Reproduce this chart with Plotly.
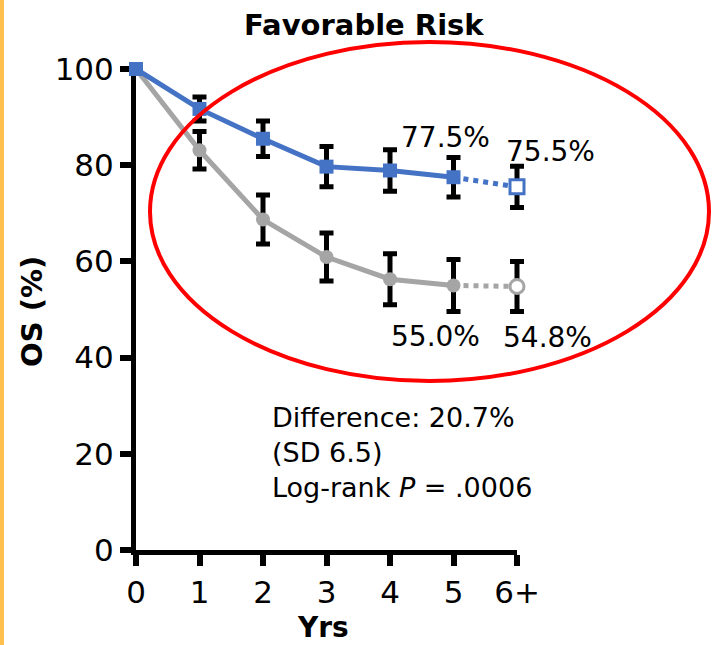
import plotly.graph_objects as go

years = [0, 1, 2, 3, 4, 5, 6]
tick_labels = ["0", "1", "2", "3", "4", "5", "6+"]
y_ticks = [0, 20, 40, 60, 80, 100]

blue_os = [100, 91.7, 85.5, 79.7, 78.9, 77.5, 75.5]
blue_err = [0, 2.5, 3.7, 4.2, 4.3, 4.1, 4.3]
gray_os = [100, 83.1, 68.7, 60.9, 56.3, 55.0, 54.8]
gray_err = [0, 3.9, 5.1, 5.0, 5.3, 5.4, 5.2]

blue_labels = {5: "77.5%", 6: "75.5%"}
gray_labels = {5: "55.0%", 6: "54.8%"}

BLUE = "#4472C4"
GRAY = "#A5A5A5"
FONT = "DejaVu Sans"

# layout geometry (pixels)
W, H = 720, 645
L, T = 136, 69
PW_AXIS = 381          # visible x-axis length (0 .. 6+)
PW = 401               # data subplot width (room so edge error caps aren't clipped)
PH = 481
R = W - L - PW
B = H - T - PH
frac = PW_AXIS / PW


def px(x):
    return (x - L) / PW


def py(y):
    return (T + PH - y) / PH


fig = go.Figure()

# invisible trace keeping the visible axes' subplot alive
fig.add_trace(go.Scatter(x=years, y=blue_os, mode="markers", marker=dict(size=0.1, opacity=0),
                         showlegend=False, hoverinfo="skip", xaxis="x", yaxis="y"))

# error bars (drawn first so lines/markers sit on top)
for ys, errs in [(gray_os, gray_err), (blue_os, blue_err)]:
    fig.add_trace(go.Scatter(
        x=years[1:], y=ys[1:], mode="markers",
        marker=dict(size=1, color="rgba(0,0,0,0)"),
        error_y=dict(type="data", array=errs[1:], color="black", thickness=5, width=7),
        showlegend=False, hoverinfo="skip", cliponaxis=False, xaxis="x2", yaxis="y"))

for ys, col, sym in [(gray_os, GRAY, "circle"), (blue_os, BLUE, "square")]:
    fig.add_trace(go.Scatter(
        x=years[:6], y=ys[:6], mode="lines+markers",
        line=dict(color=col, width=5),
        marker=dict(symbol=sym, size=14, color=col),
        showlegend=False, cliponaxis=False, xaxis="x2", yaxis="y"))
    fig.add_trace(go.Scatter(
        x=years[5:], y=ys[5:], mode="lines",
        line=dict(color=col, width=5, dash="dot"),
        showlegend=False, cliponaxis=False, xaxis="x2", yaxis="y"))
    fig.add_trace(go.Scatter(
        x=years[6:], y=ys[6:], mode="markers",
        marker=dict(symbol=sym, size=14, color="white", line=dict(color=col, width=3)),
        showlegend=False, cliponaxis=False, xaxis="x2", yaxis="y"))

annotations = []
shifts_b = {5: (-8, 40), 6: (33, 35)}
shifts_g = {5: (-18, -51), 6: (30, -51)}
for i, t in blue_labels.items():
    annotations.append(dict(x=years[i], y=blue_os[i], xref="x2", yref="y", text=t, showarrow=False,
                            xshift=shifts_b[i][0], yshift=shifts_b[i][1],
                            font=dict(family=FONT, size=28, color="black")))
for i, t in gray_labels.items():
    annotations.append(dict(x=years[i], y=gray_os[i], xref="x2", yref="y", text=t, showarrow=False,
                            xshift=shifts_g[i][0], yshift=shifts_g[i][1],
                            font=dict(family=FONT, size=28, color="black")))
annotations.append(dict(
    xref="paper", yref="paper", x=px(270), y=py(452),
    xanchor="left", yanchor="middle", align="left", showarrow=False,
    text="Difference: 20.7%<br>(SD 6.5)<br>Log-rank <i>P</i> = .0006",
    font=dict(family=FONT, size=27, color="black")))
annotations.append(dict(
    xref="paper", yref="paper", x=px(32), y=py(312), textangle=-90,
    xanchor="center", yanchor="middle", showarrow=False,
    text="<b>OS (%)</b>", font=dict(family=FONT, size=29, color="black")))
annotations.append(dict(
    xref="paper", yref="paper", x=px(323), y=py(627),
    xanchor="center", yanchor="middle", showarrow=False,
    text="<b>Yrs</b>", font=dict(family=FONT, size=28, color="black")))
annotations.append(dict(
    xref="paper", yref="paper", x=px(364), y=py(25),
    xanchor="center", yanchor="middle", showarrow=False,
    text="<b>Favorable Risk</b>", font=dict(family=FONT, size=29, color="black")))

axis_common = dict(showgrid=False, zeroline=False, showline=True, linecolor="black", linewidth=5,
                   ticks="outside", ticklen=11, tickwidth=6, tickcolor="black",
                   tickfont=dict(family=FONT, size=31, color="black"), automargin=False)

fig.update_layout(
    width=W, height=H,
    margin=dict(l=L, r=R, t=T, b=B),
    paper_bgcolor="white", plot_bgcolor="rgba(0,0,0,0)",
    xaxis=dict(range=[0, 6], domain=[0, frac], tickvals=years, ticktext=tick_labels, **axis_common),
    xaxis2=dict(range=[0, 6 / frac], domain=[0, 1], anchor="y", visible=False),
    yaxis=dict(range=[0, 100], tickvals=y_ticks, **axis_common),
    annotations=annotations,
    shapes=[
        dict(type="circle", xref="paper", yref="paper",
             x0=px(150), x1=px(709), y0=py(381), y1=py(42),
             line=dict(color="#FF0000", width=4), fillcolor="rgba(0,0,0,0)", layer="above"),
        dict(type="rect", xref="paper", yref="paper",
             x0=px(0), x1=px(4), y0=py(H), y1=py(0),
             line=dict(width=0), fillcolor="#FFC04D", layer="above"),
    ],
)

fig.write_html("out.html", config={"displayModeBar": False},
               post_script="document.body.style.margin='0px';")
